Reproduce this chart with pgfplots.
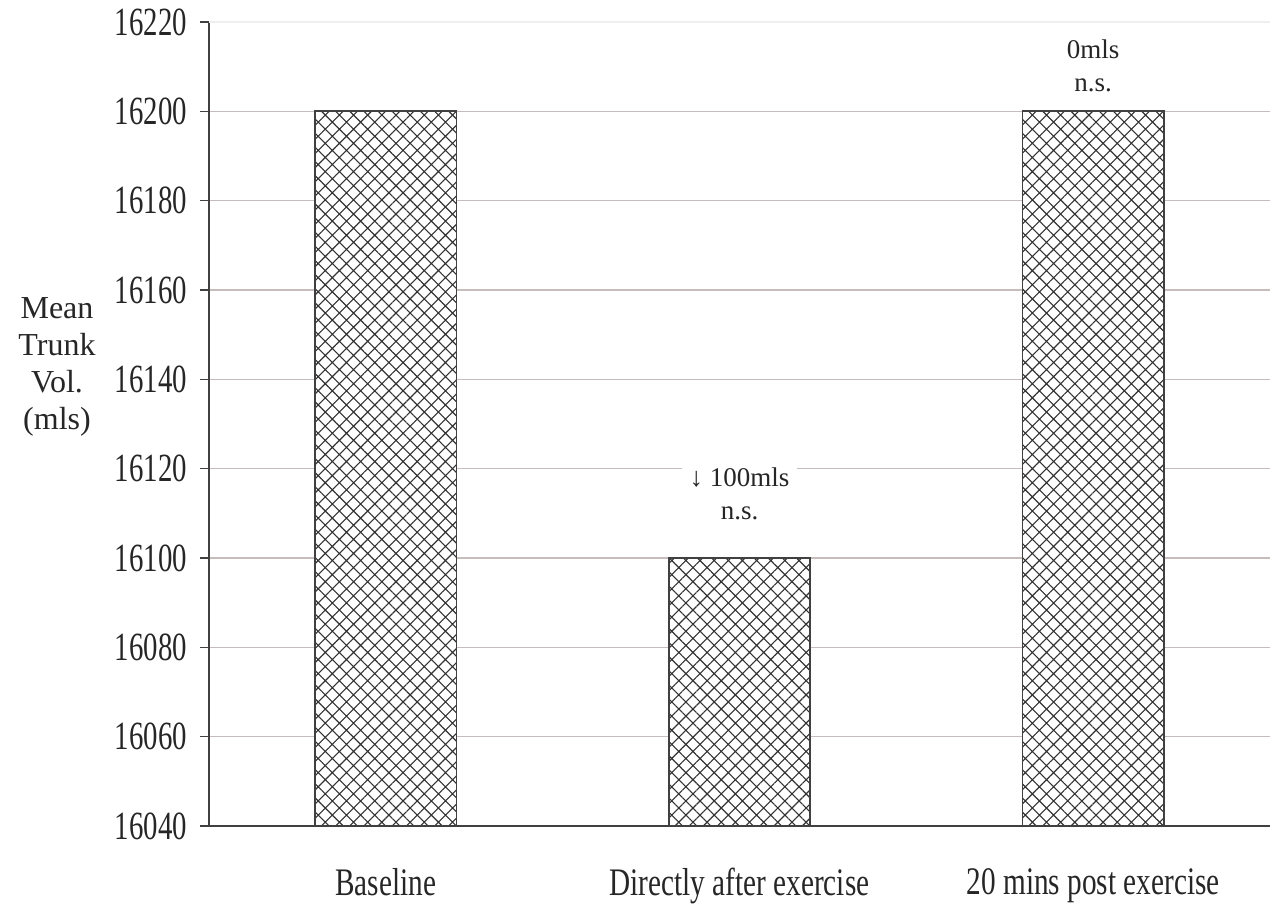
\documentclass[border=0pt]{standalone}
\usepackage{fontspec}
\setmainfont{Liberation Serif}
\newfontfamily\condA{Liberation Serif}[FakeStretch=0.72]
\newfontfamily\condB{Liberation Serif}[FakeStretch=0.75]
\usepackage{pgfplots}
\pgfplotsset{compat=1.18}
\usetikzlibrary{patterns.meta}
\definecolor{gridc}{HTML}{C6BCBC}
\definecolor{axc}{HTML}{404040}
\begin{document}
\begin{tikzpicture}
\useasboundingbox (-104.5pt,-40.5pt) rectangle (531.5pt,413pt);
\begin{axis}[
  at={(0,0)}, anchor=south west,
  width=530.5pt, height=402pt, scale only axis,
  xmin=-0.5, xmax=2.5, ymin=16040, ymax=16220,
  ybar,
  axis x line*=bottom, axis y line*=left,
  axis line style={-, axc, line width=0.75pt},
  tick align=outside,
  major tick length=4.5pt,
  minor tick length=6pt,
  ytick={16040,16060,16080,16100,16120,16140,16160,16180,16200},
  yticklabels={16040,16060,16080,16100,16120,16140,16160,16180,16200},
  extra y ticks={16220},
  extra y tick labels={16220},
  extra y tick style={grid style={color=gridc!25, line width=0.75pt}},
  scaled y ticks=false,
  ymajorgrids,
  grid style={gridc, line width=0.75pt},
  y tick style={axc, line width=0.75pt},
  yticklabel style={font=\condA\fontsize{20}{24}\selectfont, text=black!85, xshift=-3pt},
  xtick={0,1,2},
  xticklabels={Baseline, Directly after exercise, 20 mins post exercise},
  x tick style={draw=none},
  minor xtick={-0.5,0.5,1.5,2.5},
  minor x tick style={axc, line width=0.75pt},
  xticklabel style={font=\condB\fontsize{19.5}{23}\selectfont, text=black!85, yshift=-13pt},
]
\addplot[draw=axc, line width=0.9pt, bar width=0.4,
  preaction={fill=white},
  pattern={Hatch[angle=45,distance=5pt,line width=0.55pt]}, pattern color=black!80]
  coordinates {(0,16200) (1,16100) (2,16200)};
\node[font=\fontsize{13.5}{16.5}\selectfont, align=center, fill=white, inner xsep=4pt, inner ysep=1pt, text=black!85]
  at (axis cs:1,16114.3) {↓ 100mls\\n.s.};
\node[font=\fontsize{13.5}{16.5}\selectfont, align=center, text=black!85]
  at (axis cs:2,16210.3) {0mls\\n.s.};
\end{axis}
\node[font=\fontsize{16}{18.5}\selectfont, align=center, text=black!85]
  at (-76pt,229.5pt) {Mean\\Trunk\\Vol.\\(mls)};
\end{tikzpicture}
\end{document}
